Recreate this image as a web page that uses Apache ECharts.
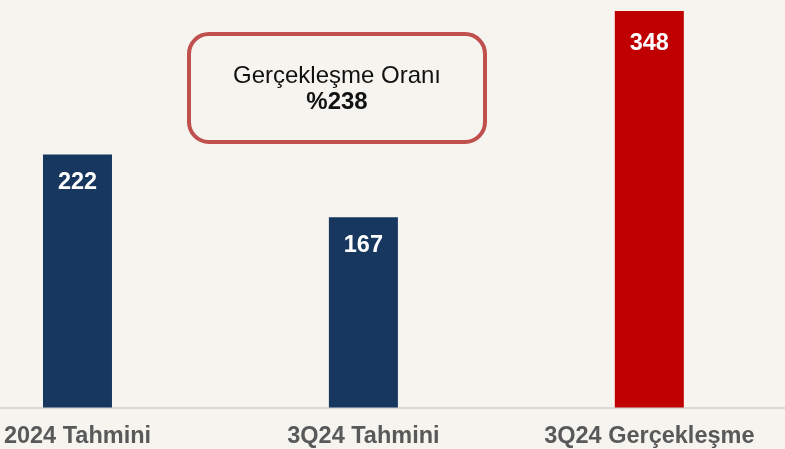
<!DOCTYPE html>
<html>
<head>
<meta charset="utf-8">
<script src="https://cdn.jsdelivr.net/npm/echarts@6/dist/echarts.min.js"></script>
<style>
  html, body { margin: 0; padding: 0; background: #f5f4ef; }
  #main { width: 785px; height: 449px; }
</style>
</head>
<body>
<div id="main"></div>
<script>
var categories = ['2024 Tahmini', '3Q24 Tahmini', '3Q24 Gerçekleşme']
var values = [222, 167, 348]
var barColors = ['#17375e', '#17375e', '#c00000']
var noteTitle = 'Gerçekleşme Oranı'
var noteValue = '%238'

var chart = echarts.init(document.getElementById('main'))

// x ekseni değer ekseni: ilk çubuk kenara yakın, son etiket sağda
var catIdx = categories.map(function (c, i) { return i })
var barData = values.map(function (v, i) {
  return {
    value: [i, v],
    itemStyle: { color: barColors[i] },
    label: { distance: i === 2 ? 21 : 16 }
  }
})

var option = {
  backgroundColor: '#f5f4ef',
  animation: false,
  grid: { left: 0, right: 0, top: 11, bottom: 41.5, containLabel: false },
  xAxis: {
    type: 'value',
    min: -0.271,
    max: 2.4746,
    splitLine: { show: false },
    axisLine: { show: true, onZero: false, lineStyle: { color: '#d9d9d9', width: 2 } },
    axisTick: { show: false },
    axisLabel: {
      customValues: catIdx,
      showMinLabel: true,
      showMaxLabel: true,
      hideOverlap: false,
      formatter: function (v) { return categories[Math.round(v)] },
      color: '#595959',
      fontFamily: 'Liberation Sans, Arial, sans-serif',
      fontWeight: 'bold',
      fontSize: 23.5,
      margin: 17
    }
  },
  yAxis: {
    type: 'value',
    min: 0,
    max: 348,
    show: false,
    splitLine: { show: false }
  },
  series: [{
    type: 'bar',
    barWidth: 69,
    data: barData,
    label: {
      show: true,
      position: 'insideTop',
      formatter: function (p) { return p.value[1] },
      color: '#ffffff',
      fontFamily: 'Liberation Sans, Arial, sans-serif',
      fontWeight: 'bold',
      fontSize: 23.5
    }
  }],
  // oran kutusu
  graphic: [{
    type: 'group',
    left: 187,
    top: 32,
    children: [{
      type: 'rect',
      shape: { x: 0, y: 0, width: 296, height: 108, r: 20 },
      style: { fill: '#f5f4ef', stroke: '#c0504d', lineWidth: 4 }
    }, {
      type: 'text',
      x: 148,
      y: 42,
      style: {
        text: noteTitle,
        align: 'center',
        verticalAlign: 'middle',
        fill: '#111111',
        font: '24px "Liberation Sans", Arial, sans-serif'
      }
    }, {
      type: 'text',
      x: 148,
      y: 68,
      style: {
        text: noteValue,
        align: 'center',
        verticalAlign: 'middle',
        fill: '#111111',
        font: 'bold 24px "Liberation Sans", Arial, sans-serif'
      }
    }]
  }]
}

chart.setOption(option)
</script>
</body>
</html>
